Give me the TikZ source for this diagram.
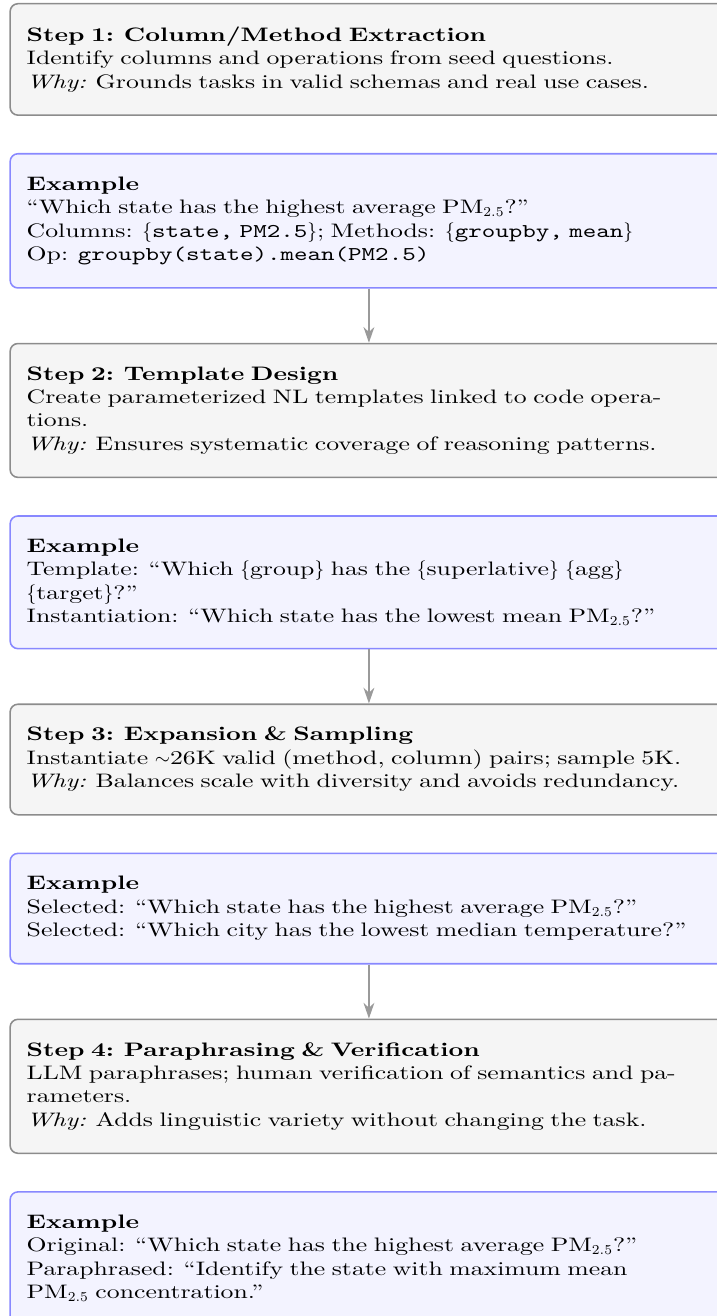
\documentclass[tikz,border=0pt]{standalone}
\usepackage{fontspec}
\setmainfont{lmroman10}[Extension=.otf, UprightFont=*-regular, BoldFont=*-bold,
  ItalicFont=*-italic, BoldItalicFont=*-bolditalic, FakeStretch=1.32]
\setmonofont{lmmono10}[Extension=.otf, UprightFont=*-regular, FakeStretch=1.32]
\usetikzlibrary{positioning,arrows.meta}
\definecolor{stepfill}{HTML}{F5F5F5}
\definecolor{stepdraw}{HTML}{8C8C8C}
\definecolor{exfill}{HTML}{F3F3FF}
\definecolor{exdraw}{HTML}{8888FF}
\definecolor{flowgray}{HTML}{9A9A9A}
\begin{document}
\begin{tikzpicture}[>={Stealth[length=8pt,width=5.5pt,inset=2.5pt]},
        stepbox/.style={draw=stepdraw, fill=stepfill, line width=0.8pt, rounded corners=4pt,
            text width=351pt, inner xsep=8.5pt, inner ysep=11.8pt, align=left},
        exbox/.style={stepbox, draw=exdraw, fill=exfill},
        flow/.style={->, draw=flowgray, line width=1.1pt}]
            \useasboundingbox (0,0) rectangle (367.7pt,-674.9pt);
            \node[stepbox, anchor=north] (s1) at (189.2pt,-1.5pt) {\textbf{Step 1: Column/Method Extraction}\\
                Identify columns and operations from seed questions.\\
                \textit{Why:} Grounds tasks in valid schemas and real use cases.};
            \node[exbox, below=19pt of s1] (e1) {\textbf{Example}\\
                ``Which state has the highest average PM$_{2.5}$?''\\
                Columns: $\{$\texttt{state, PM2.5}$\}$; Methods: $\{$\texttt{groupby, mean}$\}$\\
                Op: \texttt{groupby(state).mean(PM2.5)}};
            \node[stepbox, below=27.7pt of e1] (s2) {\textbf{Step 2: Template Design}\\
                Create parameterized NL templates linked to code operations.\\
                \textit{Why:} Ensures systematic coverage of reasoning patterns.};
            \node[exbox, below=19pt of s2] (e2) {\textbf{Example}\\
                Template: ``Which $\{$group$\}$ has the $\{$superlative$\}$ $\{$agg$\}$ $\{$target$\}$?''\\
                Instantiation: ``Which state has the lowest mean PM$_{2.5}$?''};
            \node[stepbox, below=27.7pt of e2] (s3) {\textbf{Step 3: Expansion \& Sampling}\\
                Instantiate $\sim$26K valid (method, column) pairs; sample 5K.\\
                \textit{Why:} Balances scale with diversity and avoids redundancy.};
            \node[exbox, below=19pt of s3] (e3) {\textbf{Example}\\
                Selected: ``Which state has the highest average PM$_{2.5}$?''\\
                Selected: ``Which city has the lowest median temperature?''};
            \node[stepbox, below=27.7pt of e3] (s4) {\textbf{Step 4: Paraphrasing \& Verification}\\
                LLM paraphrases; human verification of semantics and parameters.\\
                \textit{Why:} Adds linguistic variety without changing the task.};
            \node[exbox, below=19pt of s4] (e4) {\textbf{Example}\\
                Original: ``Which state has the highest average PM$_{2.5}$?''\\
                Paraphrased: ``Identify the state with maximum mean\\
                PM$_{2.5}$ concentration.''};
            \draw[flow] (e1) -- (s2);
            \draw[flow] (e2) -- (s3);
            \draw[flow] (e3) -- (s4);
\end{tikzpicture}
\end{document}
